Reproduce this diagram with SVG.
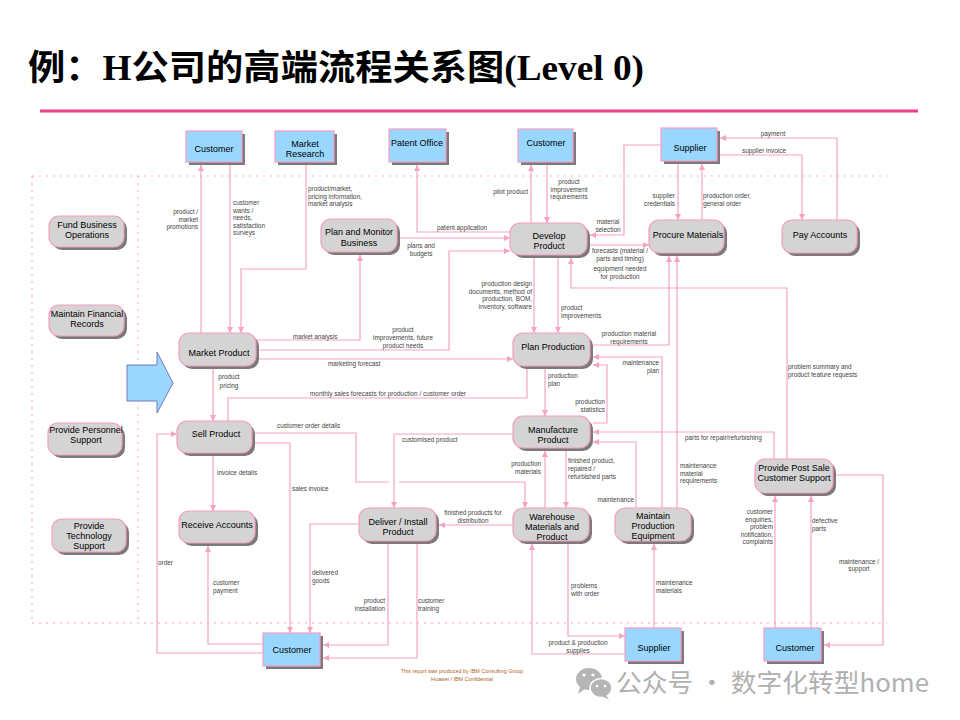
<svg xmlns="http://www.w3.org/2000/svg" width="960" height="720" viewBox="0 0 960 720">
<defs>
<style>
.c{fill:none;stroke:#f7a3c5;stroke-width:1.2}
.cm{fill:none;stroke:#f7a3c5;stroke-width:1.2;marker-end:url(#ah)}
.sh{fill:#7a7a7a}
.p{fill:#d4d4d4;stroke:#f79cc3;stroke-width:1.2}
.e{fill:#99d7ff;stroke:#f79cc3;stroke-width:1.2}
.t{font-family:"Liberation Sans",Arial,sans-serif;font-size:9px;fill:#000;text-anchor:middle}
.l{font-family:"Liberation Sans",Arial,sans-serif;font-size:6.4px;fill:#444}
.m{text-anchor:middle}
.r{text-anchor:end}
.fr{fill:none;stroke:#f7a3c5;stroke-width:1;stroke-dasharray:2,5}
</style>
<marker id="ah" markerUnits="userSpaceOnUse" markerWidth="8" markerHeight="8" refX="6" refY="3.5" orient="auto">
<path d="M0,0.5 L6,3.5 L0,6.5 Z" fill="#f7a3c5"/>
</marker>
</defs>
<rect width="960" height="720" fill="#fff"/>
<text x="28" y="80" textLength="616" lengthAdjust="spacingAndGlyphs" style="font-family:'Liberation Serif','Noto Sans CJK SC',serif;font-size:35px;font-weight:bold;fill:#000">例：H公司的高端流程关系图(Level 0)</text>
<rect x="40" y="109.5" width="878" height="3" fill="#ee4088"/>
<g id="frame">
<path class="fr" d="M32,176 H887 M32,623 H887 M32,176 V623 M138,176 V623"/>
</g>
<g id="bigarrow">
<polygon points="127,365 157,365 157,352 173,383 157,413 157,401 127,401" fill="#99d7ff" stroke="#7777bb" stroke-width="1"/>
</g>
<g id="connectors">
<path class="cm" d="M201,333 V165"/>
<text class="l r" x="198" y="214">product /<tspan x="198" dy="7.5">market</tspan><tspan x="198" dy="7.5">promotions</tspan></text>
<path class="cm" d="M230,165 V333"/>
<text class="l" x="233" y="205">customer<tspan x="233" dy="7.5">wants /</tspan><tspan x="233" dy="7.5">needs,</tspan><tspan x="233" dy="7.5">satisfaction</tspan><tspan x="233" dy="7.5">surveys</tspan></text>
<path class="cm" d="M306,165 V269 H241 V333"/>
<text class="l" x="308" y="191">product/market,<tspan x="308" dy="7.5">pricing information,</tspan><tspan x="308" dy="7.5">market analysis</tspan></text>
<path class="cm" d="M510,232 H417 V165"/>
<text class="l" x="437" y="230">patent application</text>
<path class="cm" d="M397,238 H510"/>
<text class="l m" x="421" y="248">plans and<tspan x="421" dy="7.5">budgets</tspan></text>
<path class="cm" d="M256,340 H360 V255"/>
<text class="l" x="293" y="339">market analysis</text>
<path class="cm" d="M256,350 H449 V251 H510"/>
<text class="l m" x="403" y="332">product<tspan x="403" dy="7.8">improvements, future</tspan><tspan x="403" dy="7.8">product needs</tspan></text>
<path class="cm" d="M256,359 H513"/>
<text class="l" x="328" y="366">marketing forecast</text>
<path class="c" d="M527,366 V398 H228 V421"/>
<text class="l" x="310" y="396">monthly sales forecasts for production / customer order</text>
<path class="cm" d="M213,366 V421"/>
<text class="l m" x="229" y="379">product<tspan x="229" dy="8.5">pricing</tspan></text>
<path class="cm" d="M534,258 V333"/>
<text class="l r" x="532" y="286">production design<tspan x="532" dy="7.5">documents, method of</tspan><tspan x="532" dy="7.5">production, BOM,</tspan><tspan x="532" dy="7.5">inventory, software</tspan></text>
<path class="cm" d="M558,258 V333"/>
<text class="l" x="561" y="310">product<tspan x="561" dy="7.5">improvements</tspan></text>
<path class="cm" d="M531,223 V165"/>
<text class="l r" x="528" y="194">pilot product</text>
<path class="cm" d="M547,165 V223"/>
<text class="l m" x="569" y="184">product<tspan x="569" dy="7.5">improvement</tspan><tspan x="569" dy="7.5">requirements</tspan></text>
<path class="cm" d="M661,145 H624 V235 H590"/>
<text class="l m" x="608" y="224">material<tspan x="608" dy="7.5">selection</tspan></text>
<path class="cm" d="M590,245 H649"/>
<text class="l m" x="620" y="253">forecasts (material /<tspan x="620" dy="7.5">parts and timing)</tspan><tspan x="620" dy="10.5">equipment needed</tspan><tspan x="620" dy="7.5">for production</tspan></text>
<path class="cm" d="M702,220 V164"/>
<text class="l" x="703" y="198">production order,<tspan x="703" dy="7.5">general order</tspan></text>
<path class="cm" d="M678,164 V220"/>
<text class="l r" x="675" y="198">supplier<tspan x="675" dy="7.5">credentials</tspan></text>
<path class="cm" d="M837,220 V138 H720"/>
<text class="l m" x="773" y="136">payment</text>
<path class="cm" d="M720,155 H802 V220"/>
<text class="l m" x="764" y="153">supplier invoice</text>
<path class="cm" d="M593,345 H669 V256"/>
<text class="l m" x="629" y="336">production material<tspan x="629" dy="7.5">requirements</tspan></text>
<path class="cm" d="M677,508 V256"/>
<text class="l" x="680" y="468">maintenance<tspan x="680" dy="7.5">material</tspan><tspan x="680" dy="7.5">requirements</tspan></text>
<path class="cm" d="M662,508 V357 H593"/>
<text class="l r" x="659" y="365">maintenance<tspan x="659" dy="8">plan</tspan></text>
<path class="cm" d="M593,423 H607 V365 H593"/>
<text class="l r" x="605" y="404">production<tspan x="605" dy="7.5">statistics</tspan></text>
<path class="cm" d="M545,366 V416"/>
<text class="l" x="548" y="378">production<tspan x="548" dy="8">plan</tspan></text>
<path class="cm" d="M513,434 H394 V508"/>
<text class="l" x="402" y="442">customised product</text>
<path class="cm" d="M255,433 H356 V482 H389 M399,482 H525 V508"/>
<text class="l" x="277" y="428">customer order details</text>
<path class="cm" d="M255,443 H290 V633"/>
<text class="l" x="292" y="491">sales invoice</text>
<path class="cm" d="M213,456 V511"/>
<text class="l" x="217" y="475">invoice details</text>
<path class="cm" d="M263,644 H208 V546"/>
<text class="l" x="213" y="585">customer<tspan x="213" dy="7.5">payment</tspan></text>
<path class="cm" d="M263,653 H157 V434 H177"/>
<text class="l" x="158" y="565">order</text>
<path class="cm" d="M359,524 H310 V633"/>
<text class="l" x="312" y="575">delivered<tspan x="312" dy="8">goods</tspan></text>
<path class="cm" d="M388,544 V645 H323"/>
<text class="l r" x="385" y="603">product<tspan x="385" dy="7.5">installation</tspan></text>
<path class="cm" d="M417,544 V658 H323"/>
<text class="l" x="418" y="603">customer<tspan x="418" dy="7.5">training</tspan></text>
<path class="cm" d="M513,525 H439"/>
<text class="l m" x="473" y="515">finished products for<tspan x="473" dy="7.5">distribution</tspan></text>
<path class="cm" d="M545,508 V451"/>
<text class="l r" x="541" y="466">production<tspan x="541" dy="7.5">materials</tspan></text>
<path class="cm" d="M566,451 V508"/>
<text class="l" x="568" y="463">finished product,<tspan x="568" dy="8">repaired /</tspan><tspan x="568" dy="8">refurbished parts</tspan></text>
<path class="cm" d="M625,654 H532 V544"/>
<text class="l m" x="578" y="645">product &amp; production<tspan x="578" dy="8">supplies</tspan></text>
<path class="cm" d="M568,544 V636 H625"/>
<text class="l" x="571" y="588">problems<tspan x="571" dy="7.5">with order</tspan></text>
<path class="cm" d="M654,628 V544"/>
<text class="l" x="656" y="585">maintenance<tspan x="656" dy="7.5">materials</tspan></text>
<path class="cm" d="M636,508 V442 H593"/>
<text class="l r" x="634" y="502">maintenance</text>
<path class="cm" d="M774,459 V432 H593"/>
<text class="l" x="685" y="440">parts for repair/refurbishing</text>
<path class="cm" d="M787,459 V288 H571 V258"/>
<text class="l" x="788" y="369">problem summary and<tspan x="788" dy="8">product feature requests</tspan></text>
<path class="cm" d="M836,475 H883 V645 H824"/>
<text class="l m" x="859" y="564">maintenance /<tspan x="859" dy="7">support</tspan></text>
<path class="cm" d="M775,628 V496"/>
<text class="l r" x="773" y="514">customer<tspan x="773" dy="7.5">enquiries,</tspan><tspan x="773" dy="7.5">problem</tspan><tspan x="773" dy="7.5">notification,</tspan><tspan x="773" dy="7.5">complaints</tspan></text>
<path class="cm" d="M811,628 V496"/>
<text class="l" x="812" y="523">defective<tspan x="812" dy="7.5">parts</tspan></text>
</g>
<g id="fund"><rect class="sh" x="52" y="219" width="75" height="31" rx="10"/><rect class="p" x="49" y="216" width="75" height="31" rx="10"/><text class="t" x="87" y="228">Fund Business<tspan x="87" dy="10">Operations</tspan></text></g>
<g id="finrec"><rect class="sh" x="52" y="308" width="75" height="31" rx="10"/><rect class="p" x="49" y="305" width="75" height="31" rx="10"/><text class="t" x="87" y="317">Maintain Financial<tspan x="87" dy="10">Records</tspan></text></g>
<g id="personnel"><rect class="sh" x="51" y="426" width="74" height="32" rx="10"/><rect class="p" x="48" y="423" width="74" height="32" rx="10"/><text class="t" x="86" y="433">Provide Personnel<tspan x="86" dy="10">Support</tspan></text></g>
<g id="techsupport"><rect class="sh" x="55" y="522" width="74" height="33" rx="10"/><rect class="p" x="52" y="519" width="74" height="33" rx="10"/><text class="t" x="89" y="529">Provide<tspan x="89" dy="10">Technology</tspan><tspan x="89" dy="10">Support</tspan></text></g>
<g id="customer1"><rect class="sh" x="189" y="134" width="56" height="31"/><rect class="e" x="186" y="131" width="56" height="31"/><text class="t" x="214" y="152">Customer</text></g>
<g id="marketresearch"><rect class="sh" x="278" y="134" width="59" height="31"/><rect class="e" x="275" y="131" width="59" height="31"/><text class="t" x="305" y="147">Market<tspan x="305" dy="10">Research</tspan></text></g>
<g id="patent"><rect class="sh" x="392" y="132" width="57" height="33"/><rect class="e" x="389" y="129" width="57" height="33"/><text class="t" x="417" y="146">Patent Office</text></g>
<g id="customer2"><rect class="sh" x="521" y="132" width="55" height="33"/><rect class="e" x="518" y="129" width="55" height="33"/><text class="t" x="546" y="146">Customer</text></g>
<g id="supplier1"><rect class="sh" x="664" y="131" width="56" height="33"/><rect class="e" x="661" y="128" width="56" height="33"/><text class="t" x="690" y="151">Supplier</text></g>
<g id="customer3"><rect class="sh" x="266" y="636" width="57" height="33"/><rect class="e" x="263" y="633" width="57" height="33"/><text class="t" x="292" y="653">Customer</text></g>
<g id="supplier2"><rect class="sh" x="628" y="631" width="56" height="33"/><rect class="e" x="625" y="628" width="56" height="33"/><text class="t" x="654" y="651">Supplier</text></g>
<g id="customer4"><rect class="sh" x="767" y="631" width="57" height="33"/><rect class="e" x="764" y="628" width="57" height="33"/><text class="t" x="795" y="651">Customer</text></g>
<g id="planmonitor"><rect class="sh" x="324" y="222" width="76" height="33" rx="10"/><rect class="p" x="321" y="219" width="76" height="33" rx="10"/><text class="t" x="359" y="235">Plan and Monitor<tspan x="359" dy="11">Business</tspan></text></g>
<g id="develop"><rect class="sh" x="513" y="226" width="77" height="32" rx="10"/><rect class="p" x="510" y="223" width="77" height="32" rx="10"/><text class="t" x="549" y="239">Develop<tspan x="549" dy="10">Product</tspan></text></g>
<g id="procure"><rect class="sh" x="652" y="223" width="75" height="33" rx="10"/><rect class="p" x="649" y="220" width="75" height="33" rx="10"/><text class="t" x="688" y="238">Procure Materials</text></g>
<g id="payaccounts"><rect class="sh" x="785" y="223" width="75" height="33" rx="10"/><rect class="p" x="782" y="220" width="75" height="33" rx="10"/><text class="t" x="820" y="238">Pay Accounts</text></g>
<g id="marketproduct"><rect class="sh" x="182" y="336" width="77" height="33" rx="10"/><rect class="p" x="179" y="333" width="77" height="33" rx="10"/><text class="t" x="219" y="356">Market Product</text></g>
<g id="sellproduct"><rect class="sh" x="180" y="424" width="75" height="32" rx="10"/><rect class="p" x="177" y="421" width="75" height="32" rx="10"/><text class="t" x="216" y="437">Sell Product</text></g>
<g id="planproduction"><rect class="sh" x="516" y="336" width="77" height="33" rx="10"/><rect class="p" x="513" y="333" width="77" height="33" rx="10"/><text class="t" x="553" y="350">Plan Production</text></g>
<g id="manufacture"><rect class="sh" x="516" y="419" width="77" height="32" rx="10"/><rect class="p" x="513" y="416" width="77" height="32" rx="10"/><text class="t" x="553" y="433">Manufacture<tspan x="553" dy="10">Product</tspan></text></g>
<g id="receiveaccounts"><rect class="sh" x="182" y="514" width="76" height="32" rx="10"/><rect class="p" x="179" y="511" width="76" height="32" rx="10"/><text class="t" x="217" y="528">Receive Accounts</text></g>
<g id="deliver"><rect class="sh" x="362" y="511" width="77" height="33" rx="10"/><rect class="p" x="359" y="508" width="77" height="33" rx="10"/><text class="t" x="398" y="525">Deliver / Install<tspan x="398" dy="10">Product</tspan></text></g>
<g id="warehouse"><rect class="sh" x="516" y="511" width="76" height="33" rx="10"/><rect class="p" x="513" y="508" width="76" height="33" rx="10"/><text class="t" x="552" y="520">Warehouse<tspan x="552" dy="10">Materials and</tspan><tspan x="552" dy="10">Product</tspan></text></g>
<g id="maintainequip"><rect class="sh" x="618" y="511" width="76" height="33" rx="10"/><rect class="p" x="615" y="508" width="76" height="33" rx="10"/><text class="t" x="653" y="519">Maintain<tspan x="653" dy="10">Production</tspan><tspan x="653" dy="10">Equipment</tspan></text></g>
<g id="postsale"><rect class="sh" x="758" y="462" width="78" height="34" rx="10"/><rect class="p" x="755" y="459" width="78" height="34" rx="10"/><text class="t" x="794" y="471">Provide Post Sale<tspan x="794" dy="10">Customer Support</tspan></text></g>
<g id="footer">
<text x="462" y="673" style="font-family:'Liberation Sans',Arial,sans-serif;font-size:5.4px;fill:#b0642a;text-anchor:middle">This report was produced by IBM Consulting Group</text>
<text x="462" y="681" style="font-family:'Liberation Sans',Arial,sans-serif;font-size:5.4px;fill:#b0642a;text-anchor:middle">Huawei / IBM Confidential</text>
</g>
<g id="watermark">
<ellipse cx="589" cy="679" rx="13" ry="11" fill="#b5b5b5"/>
<path d="M580,687 L578,694 L585,689 Z" fill="#b5b5b5"/>
<ellipse cx="601" cy="688" rx="11" ry="9.5" fill="#b5b5b5" stroke="#fff" stroke-width="1.5"/>
<path d="M606,695 L609,700 L602,696 Z" fill="#b5b5b5"/>
<circle cx="584" cy="675" r="1.6" fill="#fff"/><circle cx="593" cy="675" r="1.6" fill="#fff"/>
<circle cx="597" cy="686" r="1.3" fill="#fff"/><circle cx="605" cy="686" r="1.3" fill="#fff"/>
<text x="616" y="692" textLength="313" lengthAdjust="spacingAndGlyphs" style="font-family:'Noto Sans CJK SC','Noto Sans',sans-serif;font-size:25px;fill:#b0b0b0">公众号 · 数字化转型home</text>
</g>
</svg>
